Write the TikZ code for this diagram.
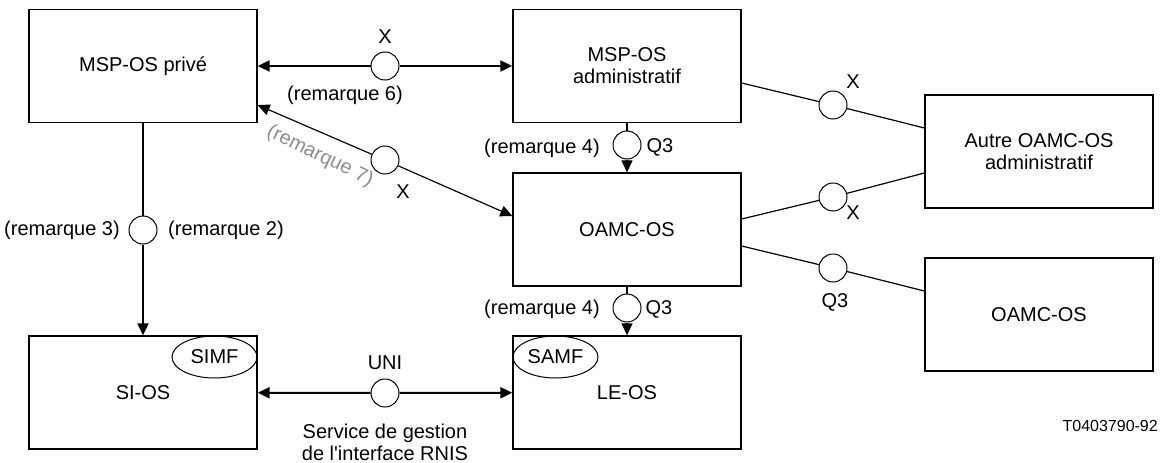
\documentclass[tikz,border=0pt]{standalone}
\usepackage{fontspec}
\setmainfont{Liberation Sans}
\usetikzlibrary{arrows.meta,shapes.geometric}
\begin{document}
\begin{tikzpicture}[x=1pt,y=-1pt,
  every node/.style={font=\fontsize{20}{22}\selectfont},
  osbox/.style={draw, line width=1.3pt, minimum width=228pt, minimum height=113pt,
                inner sep=0pt, align=center},
  iface/.style={draw, circle, line width=1pt, minimum size=28pt, inner sep=0pt},
  fn/.style={draw, ellipse, line width=1pt, minimum width=85pt, minimum height=42pt,
             inner sep=0pt},
  link/.style={line width=1.2pt},
  heavy/.style={line width=2pt},
  tip/.style={-{Triangle[length=12pt,width=11pt]}},
  note/.style={inner sep=0pt}
]
\useasboundingbox (0,0) rectangle (1165,463);

% operations systems
\node[osbox] (prive)  at (143,66)    {MSP-OS privé};
\node[osbox] (admin)  at (627,66)    {MSP-OS\\administratif};
\node[osbox] (oamc)   at (627,229.5) {OAMC-OS};
\node[osbox] (autre)  at (1039,151.5){Autre OAMC-OS\\administratif};
\node[osbox] (oamcb)  at (1039,314.5){OAMC-OS};
\node[osbox] (sios)   at (143,392.5) {SI-OS};
\node[osbox] (leos)   at (627,392.5) {LE-OS};

% management functions
\node[fn] (simf) at (214.5,357) {SIMF};
\node[fn] (samf) at (555.5,357) {SAMF};

% interface points
\node[iface] (ipx)   at (385,66)  {};
\node[iface] (ipdx)  at (385,160) {};
\node[iface] (ipv)   at (143,230) {};
\node[iface] (iqa)   at (627,145) {};
\node[iface] (iqb)   at (627,308) {};
\node[iface] (iuni)  at (385,393) {};
\node[iface] (ixa)   at (833,105) {};
\node[iface] (ixb)   at (833,197) {};
\node[iface] (iqc)   at (833,268) {};

% X between the two MSP-OS
\draw[heavy,tip] (ipx) -- (prive);
\draw[heavy,tip] (ipx) -- (admin);
% X from OAMC-OS to the private MSP-OS
\draw[link,tip] (ipdx) -- ([yshift=-39pt]prive.east);
\draw[link,tip] (ipdx) -- ([yshift=13.5pt]oamc.west);
% private MSP-OS down to SI-OS
\draw[heavy] (prive) -- (ipv);
\draw[heavy,tip] (ipv) -- (sios);
% Q3 links
\draw[link] (admin) -- (iqa);
\draw[link,tip] (iqa) -- (oamc);
\draw[link] (oamc) -- (iqb);
\draw[link,tip] (iqb) -- (leos);
% UNI
\draw[heavy,tip] (iuni) -- (sios);
\draw[heavy,tip] (iuni) -- (leos);
% links to the other OAMC-OS
\draw[link] (ixa) -- ([yshift=-17pt]admin.east);
\draw[link] (ixa) -- ([yshift=23.5pt]autre.west);
\draw[link] (ixb) -- ([yshift=10.5pt]oamc.east);
\draw[link] (ixb) -- ([yshift=-21.5pt]autre.west);
\draw[link] (iqc) -- ([yshift=-16.5pt]oamc.east);
\draw[link] (iqc) -- ([yshift=23.5pt]oamcb.west);

% labels
\node[note] (lx1) at (385,37) {X};
\node[note] (lr6) at (345,95) {(remarque 6)};
\node[note, text=black!45, rotate=-26] (lr7) at (320,156) {(remarque 7)};
\node[note] (lx2) at (403,192) {X};
\node[note] (lr3) at (62,230) {(remarque 3)};
\node[note] (lr2) at (226,230) {(remarque 2)};
\node[note] (lr4a) at (542,148) {(remarque 4)};
\node[note] (lq3a) at (660,147) {Q3};
\node[note] (lr4b) at (542,309) {(remarque 4)};
\node[note] (lq3b) at (659,309) {Q3};
\node[note] (lx3) at (853,82) {X};
\node[note] (lx4) at (853,213) {X};
\node[note] (lq3c) at (835,302) {Q3};
\node[note] (luni) at (385,363) {UNI};
\node[note, align=center] (lsvc) at (385,442) {Service de gestion\\de l\textquotesingle interface RNIS};
\node[note, anchor=east, font=\fontsize{16}{19}\selectfont] (ref) at (1158,426) {T0403790-92};
\end{tikzpicture}
\end{document}
